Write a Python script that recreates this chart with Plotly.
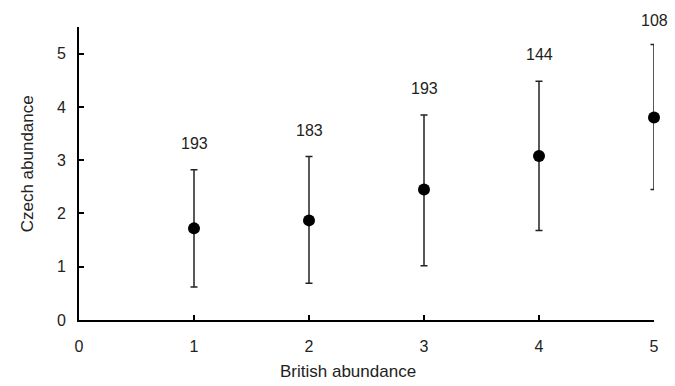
import plotly.graph_objects as go

british = [1, 2, 3, 4, 5]
czech_mean = [1.72, 1.87, 2.45, 3.08, 3.80]
upper = [2.82, 3.07, 3.85, 4.48, 5.17]
lower = [0.62, 0.69, 1.02, 1.68, 2.45]
counts = ["193", "183", "193", "144", "108"]
label_y = [3.32, 3.56, 4.34, 4.99, 5.63]
y_range = [0, 5.5]

err_plus = [u - m for u, m in zip(upper, czech_mean)]
err_minus = [m - l for m, l in zip(czech_mean, lower)]

font = "Liberation Sans, Arial, sans-serif"
txt = "#222"

fig = go.Figure()
fig.add_trace(go.Scatter(
    x=british, y=czech_mean, mode="markers",
    marker=dict(color="black", size=12),
    error_y=dict(type="data", array=err_plus, arrayminus=err_minus,
                 color="#222", thickness=1.5, width=3.5),
    cliponaxis=False, showlegend=False,
))

for x, y, t in zip(british, label_y, counts):
    fig.add_annotation(x=x, xref="x", y=(y - y_range[0]) / (y_range[1] - y_range[0]),
                       yref="paper", xanchor="center", yanchor="middle",
                       text=t, showarrow=False,
                       font=dict(family=font, size=16, color=txt))

fig.add_annotation(text="British abundance", xref="paper", yref="paper",
                   x=0.467, y=0, yshift=-63, xanchor="center", yanchor="bottom",
                   showarrow=False, font=dict(family=font, size=17, color=txt))
fig.add_annotation(text="Czech abundance", xref="paper", yref="paper",
                   x=0, xshift=-63, y=0.533, xanchor="left", yanchor="middle",
                   textangle=-90, showarrow=False,
                   font=dict(family=font, size=17, color=txt))

fig.update_layout(
    width=675, height=386,
    margin=dict(l=79, r=21, t=27, b=66),
    paper_bgcolor="white", plot_bgcolor="white",
    font=dict(family=font, color=txt),
)
fig.update_xaxes(
    range=[0, 5], tickvals=[0, 1, 2, 3, 4, 5], ticks="inside", ticklen=5,
    tickwidth=2, tickcolor="black", showline=True, linecolor="black",
    linewidth=2, showgrid=False, zeroline=False, automargin=False,
    tickfont=dict(size=16, color=txt), ticklabelstandoff=11,
)
fig.update_yaxes(
    range=y_range, tickvals=[0, 1, 2, 3, 4, 5], ticks="inside", ticklen=5,
    tickwidth=2, tickcolor="black", showline=True, linecolor="black",
    linewidth=2, showgrid=False, zeroline=False, automargin=False,
    tickfont=dict(size=16, color=txt), ticklabelstandoff=8,
)

fig.write_html("out.html", config={"displayModeBar": False},
               post_script="document.body.style.margin='0';")
